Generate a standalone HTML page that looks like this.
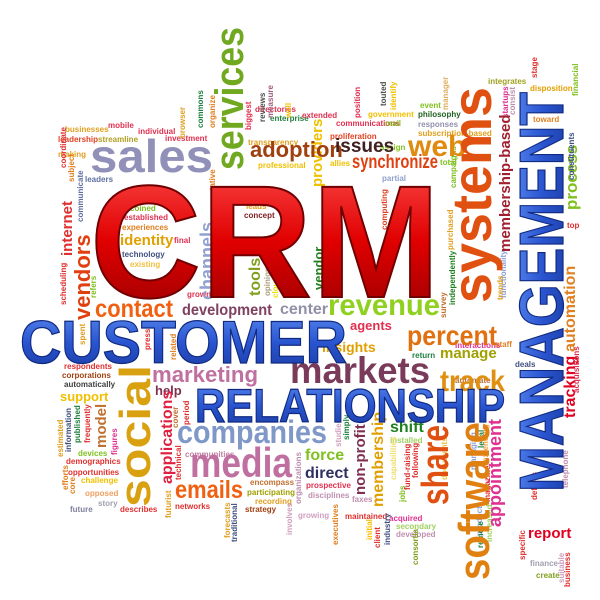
<!DOCTYPE html>
<html><head><meta charset="utf-8"><style>
html,body{margin:0;padding:0;background:#fff;width:600px;height:600px;overflow:hidden}
svg{display:block}
text{font-family:"Liberation Sans",sans-serif;font-weight:bold}
</style></head><body>
<svg width="600" height="600" viewBox="0 0 600 600">
<defs>
<linearGradient id="red" x1="0" y1="0" x2="0" y2="1"><stop offset="0" stop-color="#ff5050"/><stop offset="0.5" stop-color="#e00000"/><stop offset="1" stop-color="#900000"/></linearGradient>
<linearGradient id="blue" x1="0" y1="0" x2="0" y2="1"><stop offset="0" stop-color="#5a8af0"/><stop offset="0.5" stop-color="#2a55d0"/><stop offset="1" stop-color="#1a3aa0"/></linearGradient>
</defs>
<g font-size="8">
<text x="65" y="132" fill="#e0a020">businesses</text><text x="108" y="128" fill="#e03050">mobile</text>
<text x="138" y="134" fill="#e03050">individual</text><text x="165" y="141" fill="#e03050">investment</text>
<text x="58" y="142" fill="#e04020">leadership</text><text x="98" y="142" fill="#b0a020">streamline</text>
<text x="58" y="157" fill="#e0a020">making</text><text x="85" y="182" fill="#6070a0">leaders</text>
<text x="130" y="211" fill="#80c020">coined</text><text x="124" y="220" fill="#e03050">established</text>
<text x="122" y="230" fill="#e08020">experiences</text>
<text x="120" y="245" fill="#e0a000" font-size="15">identity</text><text x="174" y="243" fill="#e03050">final</text>
<text x="122" y="257" fill="#405080">technology</text><text x="130" y="267" fill="#f0c040">existing</text>
<text x="187" y="297" fill="#e03050">grown</text>
<text x="255" y="112" fill="#e03050">directories</text><text x="270" y="121" fill="#208040">enterprise</text>
<text x="248" y="145" fill="#e0a020">transparency</text><text x="258" y="168" fill="#f0c000">professional</text>
<text x="302" y="118" fill="#e03050">extended</text><text x="336" y="126" fill="#e03050">communications</text>
<text x="368" y="117" fill="#f0c000">government</text><text x="418" y="117" fill="#206020">philosophy</text>
<text x="418" y="127" fill="#9090b0">responses</text><text x="385" y="126" fill="#80c020">mail</text>
<text x="418" y="136" fill="#e0a020">subscription-based</text><text x="330" y="139" fill="#e04020">proliferation</text>
<text x="380" y="150" fill="#80c020">assign</text><text x="330" y="166" fill="#f0c000">allies</text>
<text x="382" y="181" fill="#90a0d0">partial</text><text x="440" y="165" fill="#80c020">total</text>
<text x="420" y="108" fill="#80c020">event</text>
<text x="246" y="209" fill="#e0a020">leads</text><text x="244" y="218" fill="#802020">concept</text>
<text x="350" y="330" fill="#e03050" font-size="13">agents</text>
<text x="322" y="352" fill="#e0a000" font-size="14">insights</text>
<text x="412" y="358" fill="#208040">return</text>
<text x="432" y="358" fill="#a0a000" font-size="15" dx="8">manage</text>
<text x="455" y="348" fill="#e03090">interactions</text>
<text x="455" y="383" fill="#c07030">automate</text><text x="495" y="347" fill="#e08020">staff</text>
<text x="515" y="367" fill="#405080">deals</text>
<text x="64" y="369" fill="#e03030">respondents</text><text x="62" y="378" fill="#a04010">corporations</text>
<text x="64" y="387" fill="#404040">automatically</text>
<text x="60" y="401" fill="#f0c000" font-size="13">support</text>
<text x="155" y="395" fill="#803050" font-size="13">help</text>
<text x="78" y="456" fill="#80c020">devices</text><text x="66" y="464" fill="#e03030">demographics</text>
<text x="68" y="475" fill="#e03030">opportunities</text><text x="81" y="483" fill="#f0c000">challenge</text>
<text x="85" y="496" fill="#f0a060">opposed</text><text x="98" y="506" fill="#a0a0b0">story</text>
<text x="70" y="512" fill="#8080a0">future</text><text x="120" y="512" fill="#e03030">describes</text>
<text x="185" y="457" fill="#c080a0">communities</text>
<text x="250" y="485" fill="#c07030">encompass</text><text x="247" y="495" fill="#a0a000">participating</text>
<text x="255" y="504" fill="#e0a020">recording</text><text x="175" y="509" fill="#e03030">networks</text>
<text x="245" y="512" fill="#a04010">strategy</text>
<text x="306" y="488" fill="#e03050">prospective</text><text x="308" y="498" fill="#c090b0">disciplines</text>
<text x="352" y="502" fill="#c090b0">faxes</text><text x="298" y="518" fill="#d0a0c0">growing</text>
<text x="345" y="519" fill="#e03030">maintained</text>
<text x="305" y="460" fill="#80c020" font-size="16">force</text>
<text x="305" y="478" fill="#303060" font-size="16">direct</text>
<text x="390" y="432" fill="#208020" font-size="16">shift</text>
<text x="390" y="443" fill="#a0d060">installed</text>
<text x="389" y="521" fill="#e03090">acquired</text><text x="396" y="529" fill="#a0d060">secondary</text>
<text x="396" y="537" fill="#c090b0">developed</text>
<text x="528" y="538" fill="#e00020" font-size="15">report</text>
<text x="530" y="566" fill="#a0a0b0">finance</text><text x="536" y="578" fill="#80a020">create</text>
<text x="488" y="84" fill="#a0a020">integrates</text><text x="530" y="91" fill="#e0a000">disposition</text>
<text x="533" y="122" fill="#e08020">toward</text><text x="567" y="228" fill="#e03030">top</text>
</g>
<g font-size="8">
<text transform="translate(185,138) rotate(-90)" fill="#e0a020">browser</text>
<text transform="translate(203,128) rotate(-90)" fill="#208040">commons</text>
<text transform="translate(215,128) rotate(-90)" fill="#e08020">organize</text>
<text transform="translate(251,130) rotate(-90)" fill="#e03050">biggest</text>
<text transform="translate(265,122) rotate(-90)" fill="#505050">reviews</text>
<text transform="translate(273,118) rotate(-90)" fill="#a06080">measure</text>
<text transform="translate(291,118) rotate(-90)" fill="#f0c000">well</text>
<text transform="translate(360,118) rotate(-90)" fill="#e03050">position</text>
<text transform="translate(386,106) rotate(-90)" fill="#505050">touted</text>
<text transform="translate(396,110) rotate(-90)" fill="#f0c000">identify</text>
<text transform="translate(448,110) rotate(-90)" fill="#e0b060">manager</text>
<text transform="translate(322,187) rotate(-90)" fill="#f0c000" font-size="15">providers</text>
<text transform="translate(215,224) rotate(-90)" fill="#e08020">representative</text>
<text transform="translate(213,300) rotate(-90)" fill="#90a0d0" font-size="18">channels</text>
<text transform="translate(260,296) rotate(-90)" fill="#80a020" font-size="16">tools</text>
<text transform="translate(270,296) rotate(-90)" fill="#b0a080">opinions</text>
<text transform="translate(278,298) rotate(-90)" fill="#f0e000">cloud</text>
<text transform="translate(323,290) rotate(-90)" fill="#208020" font-size="13">vendor</text>
<text transform="translate(66,168) rotate(-90)" fill="#e03030">coordinate</text>
<text transform="translate(74,182) rotate(-90)" fill="#e08020">subject</text>
<text transform="translate(83,222) rotate(-90)" fill="#6070a0">communicate</text>
<text transform="translate(72,256) rotate(-90)" fill="#e03030" font-size="15">internet</text>
<text transform="translate(90,320) rotate(-90)" fill="#e04010" font-size="22">vendors</text>
<text transform="translate(66,305) rotate(-90)" fill="#e03030">scheduling</text>
<text transform="translate(96,298) rotate(-90)" fill="#80c020">refers</text>
<text transform="translate(85,345) rotate(-90)" fill="#e0a020">spent</text>
<text transform="translate(150,350) rotate(-90)" fill="#e03030">press</text>
<text transform="translate(176,360) rotate(-90)" fill="#e08020">related</text>
<text transform="translate(63,457) rotate(-90)" fill="#e0a020">estimated</text>
<text transform="translate(71,452) rotate(-90)" fill="#405080">information</text>
<text transform="translate(80,443) rotate(-90)" fill="#208040">published</text>
<text transform="translate(90,443) rotate(-90)" fill="#e03030">frequently</text>
<text transform="translate(106,448) rotate(-90)" fill="#c07030" font-size="15">model</text>
<text transform="translate(117,455) rotate(-90)" fill="#e03090">figures</text>
<text transform="translate(68,490) rotate(-90)" fill="#e08020">efforts</text>
<text transform="translate(75,494) rotate(-90)" fill="#e08020">core</text>
<text transform="translate(172,484) rotate(-90)" fill="#e02040" font-size="16">applications</text>
<text transform="translate(178,428) rotate(-90)" fill="#c07030">cover</text>
<text transform="translate(189,425) rotate(-90)" fill="#e03030">period</text>
<text transform="translate(181,480) rotate(-90)" fill="#e03030">technical</text>
<text transform="translate(171,518) rotate(-90)" fill="#e0a020">futurist</text>
<text transform="translate(230,538) rotate(-90)" fill="#e0a020">forecasts</text>
<text transform="translate(237,542) rotate(-90)" fill="#405080">traditional</text>
<text transform="translate(301,504) rotate(-90)" fill="#c090b0">organizations</text>
<text transform="translate(292,535) rotate(-90)" fill="#d0a0c0">involves</text>
<text transform="translate(338,545) rotate(-90)" fill="#e08020">executives</text>
<text transform="translate(372,540) rotate(-90)" fill="#f0c000">initial</text>
<text transform="translate(380,548) rotate(-90)" fill="#e03030">client</text>
<text transform="translate(390,545) rotate(-90)" fill="#405080">industry</text>
<text transform="translate(418,565) rotate(-90)" fill="#80a020">consortia</text>
<text transform="translate(341,447) rotate(-90)" fill="#d0a0c0">studies</text>
<text transform="translate(349,440) rotate(-90)" fill="#208040">simply</text>
<text transform="translate(365,495) rotate(-90)" fill="#803050" font-size="15">non-profit</text>
<text transform="translate(383,507) rotate(-90)" fill="#e0a000" font-size="16">membership</text>
<text transform="translate(396,480) rotate(-90)" fill="#f0e070">capabilities</text>
<text transform="translate(405,502) rotate(-90)" fill="#80c020">jobs</text>
<text transform="translate(410,490) rotate(-90)" fill="#e03030">fund-raising</text>
<text transform="translate(418,478) rotate(-90)" fill="#e03030">following</text>
<text transform="translate(447,480) rotate(-90)" fill="#f0c040">documents</text>
<text transform="translate(476,470) rotate(-90)" fill="#90a0d0">managing</text>
<text transform="translate(484,448) rotate(-90)" fill="#208040">legal</text>
<text transform="translate(488,462) rotate(-90)" fill="#f0a040">extending</text>
<text transform="translate(490,502) rotate(-90)" fill="#e03030">magazine</text>
<text transform="translate(482,536) rotate(-90)" fill="#90a0d0">products</text>
<text transform="translate(483,548) rotate(-90)" fill="#208040">remote</text>
<text transform="translate(492,542) rotate(-90)" fill="#a0d060">increased</text>
<text transform="translate(501,527) rotate(-90)" fill="#e03090" font-size="18">appointment</text>
<text transform="translate(525,560) rotate(-90)" fill="#e03030">specific</text>
<text transform="translate(568,488) rotate(-90)" fill="#c090b0">telephone</text>
<text transform="translate(537,500) rotate(-90)" fill="#e03030">defines</text>
<text transform="translate(570,587) rotate(-90)" fill="#e03030">business</text>
<text transform="translate(564,583) rotate(-90)" fill="#d0a0c0">suitable</text>
<text transform="translate(575,418) rotate(-90)" fill="#e00020" font-size="16">tracking</text>
<text transform="translate(575,352) rotate(-90)" fill="#e08020" font-size="16">automation</text>
<text transform="translate(579,393) rotate(-90)" fill="#e03050">acquisitions</text>
<text transform="translate(577,210) rotate(-90)" fill="#80c020" font-size="17">process</text>
<text transform="translate(574,180) rotate(-90)" fill="#405080">constituents</text>
<text transform="translate(578,96) rotate(-90)" fill="#80c020">financial</text>
<text transform="translate(537,78) rotate(-90)" fill="#e03030">stage</text>
<text transform="translate(508,118) rotate(-90)" fill="#e03090">startups</text>
<text transform="translate(515,115) rotate(-90)" fill="#c090b0">consist</text>
<text transform="translate(510,252) rotate(-90)" fill="#a02030" font-size="15">membership-based</text>
<text transform="translate(506,298) rotate(-90)" fill="#90a0d0">functionality</text>
<text transform="translate(503,300) rotate(-90)" fill="#e0a020">trends</text>
<text transform="translate(456,188) rotate(-90)" fill="#80c020">campaigns</text>
<text transform="translate(453,250) rotate(-90)" fill="#e0a020">purchased</text>
<text transform="translate(455,305) rotate(-90)" fill="#208020">independently</text>
<text transform="translate(446,318) rotate(-90)" fill="#c07030">survey</text>
<text transform="translate(387,230) rotate(-90)" fill="#e04020">computing</text>
</g>
<g>
<text x="90" y="172" fill="#9090b8" font-size="46" textLength="123" lengthAdjust="spacingAndGlyphs">sales</text>
<text x="250" y="157" fill="#a04010" font-size="22">adoption</text>
<text x="335" y="152" fill="#402020" font-size="19">issues</text>
<text x="408" y="156" fill="#e08a10" font-size="30">web</text>
<text x="352" y="168" fill="#e04010" font-size="19" textLength="86" lengthAdjust="spacingAndGlyphs">synchronize</text>
<text x="95" y="317" fill="#f06010" font-size="25" textLength="78" lengthAdjust="spacingAndGlyphs">contact</text>
<text x="182" y="315" fill="#804060" font-size="16" textLength="90" lengthAdjust="spacingAndGlyphs">development</text>
<text x="280" y="314" fill="#9090a8" font-size="16">center</text>
<text x="328" y="315" fill="#90d020" font-size="30" textLength="112" lengthAdjust="spacingAndGlyphs">revenue</text>
<text x="407" y="345" fill="#e07010" font-size="28" textLength="90" lengthAdjust="spacingAndGlyphs">percent</text>
<text x="440" y="391" fill="#e09010" font-size="30" textLength="65" lengthAdjust="spacingAndGlyphs">track</text>
<text x="152" y="382" fill="#c070a0" font-size="22" textLength="106" lengthAdjust="spacingAndGlyphs">marketing</text>
<text x="290" y="383" fill="#7a3a5a" font-size="37" textLength="140" lengthAdjust="spacingAndGlyphs">markets</text>
<text x="177" y="443" fill="#8098c8" font-size="32" textLength="150" lengthAdjust="spacingAndGlyphs">companies</text>
<text x="190" y="477" fill="#c070a0" font-size="42" textLength="102" lengthAdjust="spacingAndGlyphs">media</text>
<text x="175" y="498" fill="#f06010" font-size="25" textLength="68" lengthAdjust="spacingAndGlyphs">emails</text>
<text transform="translate(243,170) rotate(-90)" fill="#70a820" font-size="40" textLength="143" lengthAdjust="spacingAndGlyphs">services</text>
<text transform="translate(150,507) rotate(-90)" fill="#d9a010" font-size="44" textLength="142" lengthAdjust="spacingAndGlyphs">social</text>
<text transform="translate(491,303) rotate(-90)" fill="#e05010" font-size="56" textLength="216" lengthAdjust="spacingAndGlyphs">systems</text>
<text transform="translate(448,505) rotate(-90)" fill="#e05010" font-size="38" textLength="80" lengthAdjust="spacingAndGlyphs">share</text>
<text transform="translate(489,580) rotate(-90)" fill="#e08010" font-size="44" textLength="158" lengthAdjust="spacingAndGlyphs">software</text>
</g>
<g>
<text x="90" y="297" fill="url(#red)" stroke="#700000" stroke-width="2" font-size="160" textLength="350" lengthAdjust="spacingAndGlyphs">CRM</text>
<text x="20" y="363" fill="url(#blue)" stroke="#102a80" stroke-width="1.2" font-size="60" textLength="327" lengthAdjust="spacingAndGlyphs">CUSTOMER</text>
<text x="195" y="422" fill="url(#blue)" stroke="#102a80" stroke-width="1.2" font-size="47" textLength="310" lengthAdjust="spacingAndGlyphs">RELATIONSHIP</text>
<text transform="translate(563,492) rotate(-90)" fill="url(#blue)" stroke="#102a80" stroke-width="1.2" font-size="62" textLength="400" lengthAdjust="spacingAndGlyphs">MANAGEMENT</text>
</g>
</svg>
</body></html>
